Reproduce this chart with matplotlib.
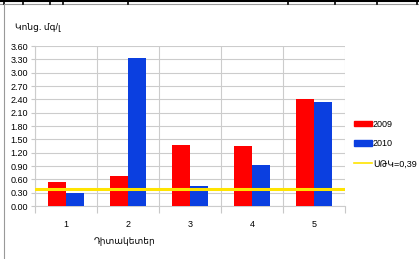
import matplotlib
matplotlib.use("Agg")
import matplotlib.pyplot as plt
from matplotlib.lines import Line2D
from matplotlib.patches import Patch
import numpy as np

plt.rcParams['font.family'] = ['Liberation Sans', 'DejaVu Sans']

# data
stations = ['1', '2', '3', '4', '5']
values_2009 = [0.55, 0.68, 1.37, 1.35, 2.41]
values_2010 = [0.29, 3.32, 0.46, 0.93, 2.33]
mpc_value = 0.39
yticks = [0.00, 0.30, 0.60, 0.90, 1.20, 1.50, 1.80, 2.10, 2.40, 2.70, 3.00, 3.30, 3.60]

RED, BLUE, YELLOW = '#ff0000', '#0b3fe0', '#ffe400'

W, H = 419, 259
fig = plt.figure(figsize=(W / 100, H / 100), dpi=100)
ax = fig.add_axes([35 / W, 1 - 206 / H, 310 / W, 160 / H])

x = np.arange(len(stations))
bw = 0.29
ax.bar(x - bw / 2, values_2009, bw, color=RED, zorder=3)
ax.bar(x + bw / 2, values_2010, bw, color=BLUE, zorder=3)
ax.axhline(mpc_value, color=YELLOW, lw=2.2, zorder=4)

ax.set_xlim(-0.5, len(stations) - 0.5)
ax.set_ylim(0, 3.6)
ax.set_yticks(yticks)
ax.set_yticklabels([f'{v:.2f}' for v in yticks])
ax.set_xticks(x)
ax.set_xticklabels(stations)
ax.set_xticks(np.arange(-0.5, len(stations), 1), minor=True)
ax.tick_params(axis='x', which='major', length=0, pad=10, labelsize=6.5)
ax.tick_params(axis='x', which='minor', length=5, color='#c8c8c8', width=0.8)
ax.tick_params(axis='y', length=3, color='#c8c8c8', pad=2, labelsize=6.5)

ax.yaxis.grid(True, color='#cccccc', lw=0.8, zorder=0)
ax.xaxis.grid(True, which='minor', color='#cccccc', lw=0.8, zorder=0)
for s in ['top', 'right']:
    ax.spines[s].set_visible(False)
ax.spines['left'].set_color('#cccccc')
ax.spines['bottom'].set_color('#cccccc')

fig.text(15 / W, 1 - 27 / H, 'Կոնց. մգ/լ', fontsize=6.5, va='center', ha='left')
fig.text(125 / W, 1 - 242 / H, 'Դիտակետեր', fontsize=6.5, va='center', ha='center')

handles = [Patch(color=RED), Patch(color=BLUE), Line2D([], [], color=YELLOW, lw=1.2)]
labels = ['2009', '2010', 'ՍԹԿ=0,39']
fig.legend(handles, labels, loc='center left', bbox_to_anchor=(354 / W, 1 - 144 / H),
           frameon=False, fontsize=6.5, handlelength=2.0, handleheight=0.6,
           labelspacing=1.2, handletextpad=0.1, borderpad=0, borderaxespad=0)

# table cell borders around the chart
fig.add_artist(Line2D([0, 1], [1 - 1 / H, 1 - 1 / H], color='black', lw=1.5))
fig.add_artist(Line2D([0, 1], [1 - 4 / H, 1 - 4 / H], color='#999999', lw=0.8))
for px in [4, 23, 50, 63, 128, 288, 335, 377, 417]:
    fig.add_artist(Line2D([px / W, px / W], [1 - 4 / H, 1], color='black', lw=1.2))
fig.add_artist(Line2D([4 / W, 4 / W], [0, 1 - 4 / H], color='#999999', lw=0.8))

fig.savefig('out.png', dpi=100)
